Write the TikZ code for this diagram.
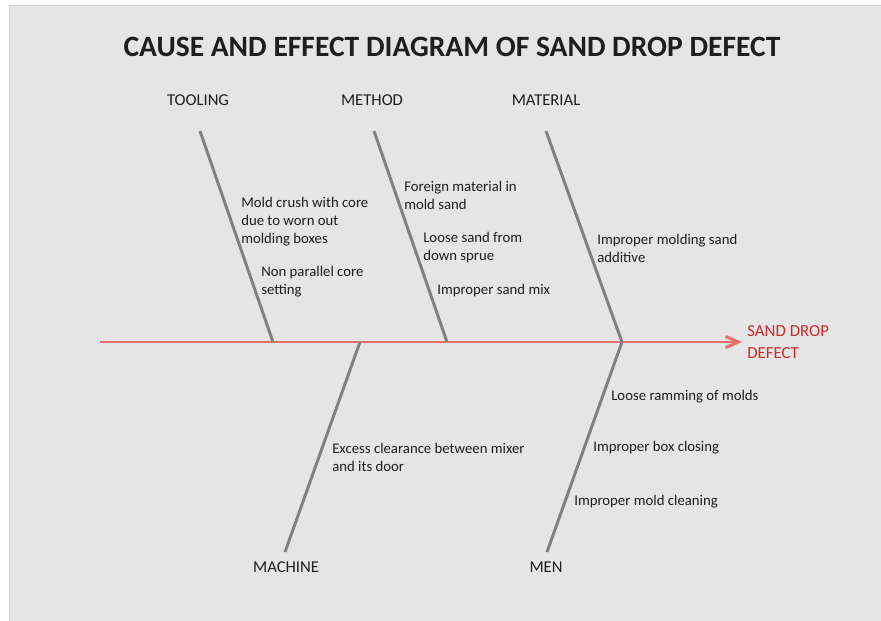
\documentclass[tikz,border=0pt]{standalone}
\usepackage{fontspec}
\setmainfont{Carlito}
\usetikzlibrary{arrows.meta}
\definecolor{cpanel}{HTML}{E5E5E5}
\definecolor{cedge}{HTML}{D2D2D2}
\definecolor{cbone}{HTML}{808080}
\definecolor{cspine}{HTML}{E86E6C}
\definecolor{cred}{HTML}{D02A2A}
\definecolor{cink}{HTML}{1E1E1E}
\tikzset{>={Straight Barb[length=3.2mm,width=2.8mm]},
  bone/.style={cbone,line width=2.1pt},
  spine/.style={cspine,line width=2.1pt},
  cat/.style={cink,inner sep=0pt,font=\fontsize{11.8}{14}\selectfont},
  cause/.style={cink,inner sep=0pt,anchor=west,align=left,font=\fontsize{10.5}{12.8}\selectfont}}

\begin{document}
\begin{tikzpicture}

% ================= panel =================
\useasboundingbox (0,0) rectangle (22.025,15.5);
\fill[white] (0,0) rectangle (22.025,15.5);
\filldraw[fill=cpanel,draw=cedge,line width=0.6pt] (0.225,-0.2) rectangle (22.3,15.375);

\node[cink,inner sep=0pt,font=\fontsize{21}{24}\bfseries] (title) at (11.3,14.325) {CAUSE AND EFFECT DIAGRAM OF SAND DROP DEFECT};

% ================= spine =================
\node[cause,cred,font=\fontsize{12}{15.6}\selectfont] (effect) at (18.675,6.95) {SAND DROP\\DEFECT};
\coordinate (tail) at (2.5,6.95);
\draw[spine,->] (tail) -- ([xshift=-0.125cm]effect.west);

% ================= upper bones =================
\node[cat] (tooling) at (4.95,13.0) {TOOLING};
\node[cat] (method) at (9.3,13.0) {METHOD};
\node[cat] (material) at (13.65,13.0) {MATERIAL};
\coordinate (ttool) at (5.0,12.225);   \coordinate (jtool) at (6.825,6.95);
\coordinate (tmeth) at (9.35,12.225);  \coordinate (jmeth) at (11.175,6.95);
\coordinate (tmat) at (13.65,12.225);  \coordinate (jmat) at (15.55,6.95);
\draw[bone] (ttool) -- (jtool);
\draw[bone] (tmeth) -- (jmeth);
\draw[bone] (tmat) -- (jmat);

\node[cause] (crush) at (6.025,9.95) {Mold crush with core\\due to worn out\\molding boxes};
\node[cause] (nonpar) at (6.525,8.45) {Non parallel core\\setting};
\node[cause] (foreign) at (10.1,10.625) {Foreign material in\\mold sand};
\node[cause] (loose) at (10.575,9.3) {Loose sand from\\down sprue};
\node[cause] (mix) at (10.925,8.225) {Improper sand mix};
\node[cause] (additive) at (14.925,9.3) {Improper molding sand\\additive};

% ================= lower bones =================
\node[cat] (machine) at (7.15,1.325) {MACHINE};
\node[cat] (men) at (13.65,1.325) {MEN};
\coordinate (jmach) at (9.0,6.95);   \coordinate (bmach) at (7.125,1.7);
\coordinate (bmen) at (13.675,1.7);
\draw[bone] (jmach) -- (bmach);
\draw[bone] (jmat) -- (bmen);

\node[cause] (clear) at (8.3,4.075) {Excess clearance between mixer\\and its door};
\node[cause] (ram) at (15.275,5.575) {Loose ramming of molds};
\node[cause] (box) at (14.825,4.3) {Improper box closing};
\node[cause] (clean) at (14.35,2.95) {Improper mold cleaning};

\end{tikzpicture}
\end{document}
